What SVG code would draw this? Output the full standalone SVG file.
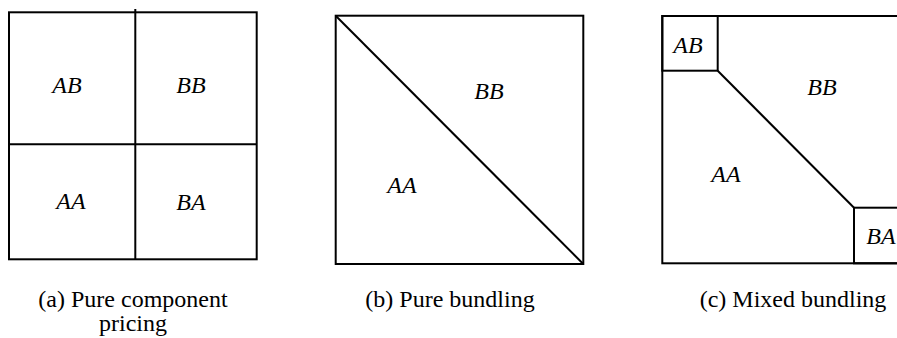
<svg xmlns="http://www.w3.org/2000/svg" width="897" height="338" viewBox="0 0 897 338">
<style>
.ln{fill:none;stroke:#000;stroke-width:2}
.lb{font-style:italic}
</style>
<rect width="897" height="338" fill="#fff"/>
<g font-family="'Liberation Serif', 'Times New Roman', serif" font-size="24" fill="#000" text-anchor="middle">
<g id="panel-a">
<rect class="ln" x="9" y="12.3" width="247.7" height="247"/>
<line class="ln" x1="135.3" y1="9" x2="135.3" y2="259.3"/>
<line class="ln" x1="9" y1="144.3" x2="256.7" y2="144.3"/>
<text class="lb" x="67" y="93">AB</text>
<text class="lb" x="191" y="93">BB</text>
<text class="lb" x="71" y="209">AA</text>
<text class="lb" x="191" y="210">BA</text>
<text x="133" y="307">(a) Pure component</text>
<text x="133" y="331">pricing</text>
</g>
<g id="panel-b">
<rect class="ln" x="335.7" y="15.7" width="247.6" height="248.3"/>
<line class="ln" x1="335.7" y1="15.7" x2="583.3" y2="264"/>
<text class="lb" x="489" y="99">BB</text>
<text class="lb" x="402" y="193">AA</text>
<text x="450" y="307">(b) Pure bundling</text>
</g>
<g id="panel-c">
<rect class="ln" x="662.3" y="16" width="248" height="247.3"/>
<rect class="ln" x="662.3" y="16" width="55.4" height="54.7"/>
<line class="ln" x1="717.7" y1="70.7" x2="854" y2="207.7"/>
<rect class="ln" x="854" y="207.7" width="56.3" height="55.6"/>
<text class="lb" x="688" y="53">AB</text>
<text class="lb" x="822" y="95">BB</text>
<text class="lb" x="726" y="182">AA</text>
<text class="lb" x="881" y="244">BA</text>
<text x="793" y="307">(c) Mixed bundling</text>
</g>
</g>
</svg>
